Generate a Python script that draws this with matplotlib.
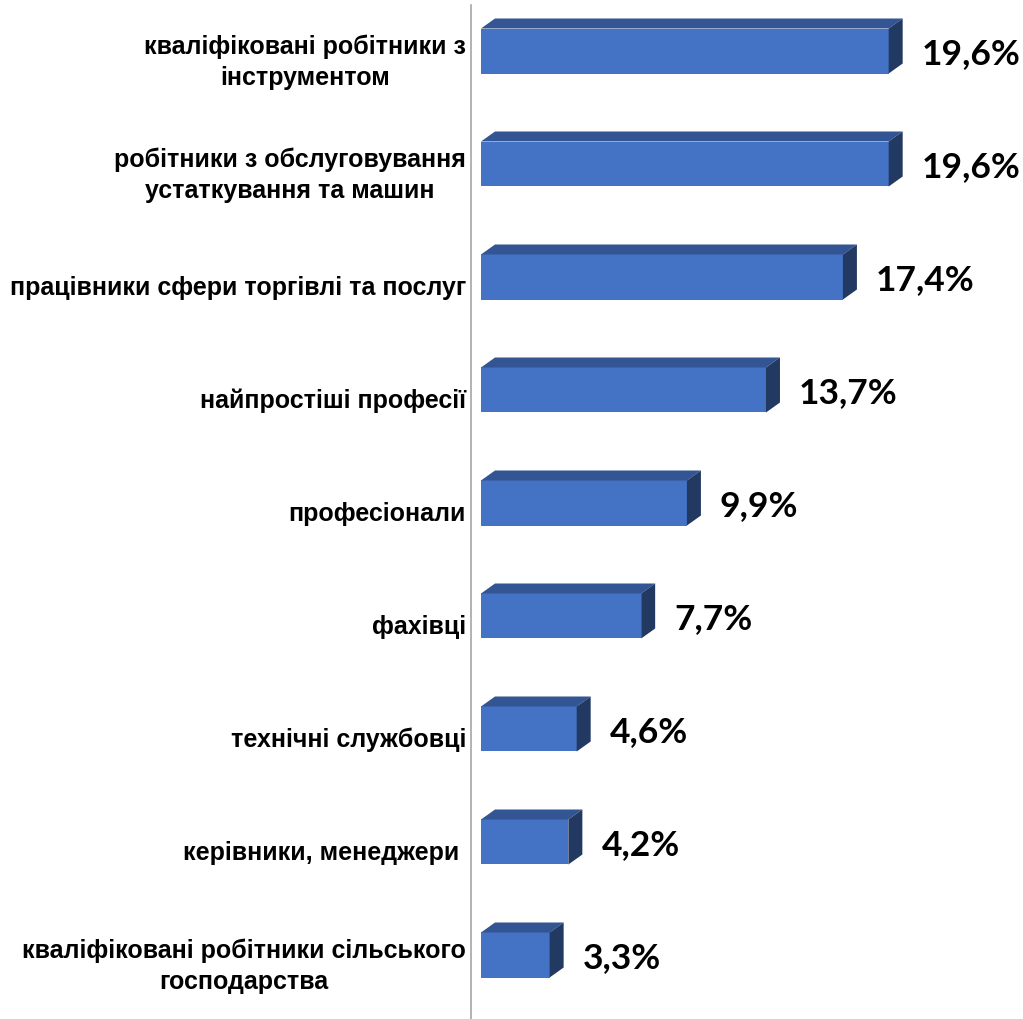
#!/usr/bin/env python3
"""
Horizontal 3D-style bar chart: occupations share
"""

import matplotlib.pyplot as plt
from matplotlib.patches import Polygon

categories = [
    'кваліфіковані робітники з\nінструментом',
    'робітники з обслуговування\nустаткування та машин',
    'працівники сфери торгівлі та послуг',
    'найпростіші професії',
    'професіонали',
    'фахівці',
    'технічні службовці',
    'керівники, менеджери ',
    'кваліфіковані робітники сільського\nгосподарства',
]
values = [19.6, 19.6, 17.4, 13.7, 9.9, 7.7, 4.6, 4.2, 3.3]
value_labels = ['19,6%', '19,6%', '17,4%', '13,7%', '9,9%', '7,7%', '4,6%', '4,2%', '3,3%']

FRONT = '#4472C4'
TOP = '#335593'
SIDE = '#223962'

W, H = 1023, 1019
px_x = 20.8      # pixels per percent
px_y = 113.0     # pixels per category
x0_px = 481      # where zero sits
ax_left_px = 471
y0_px = 51       # centre of first bar

fig = plt.figure(figsize=(W / 100, H / 100), dpi=100)
ax = fig.add_axes([ax_left_px / W, 0, 1 - ax_left_px / W, 1])

xmin = (ax_left_px - x0_px) / px_x
xmax = (W - x0_px) / px_x
ax.set_xlim(xmin, xmax)
ax.set_ylim((H - y0_px) / px_y, -y0_px / px_y)

bar_h = 45 / px_y
dx = 14 / px_x
dy = 10 / px_y

for i, v in enumerate(values):
    top = i - bar_h / 2
    bot = i + bar_h / 2
    # front face
    ax.add_patch(Polygon([(0, top), (v, top), (v, bot), (0, bot)],
                         closed=True, facecolor=FRONT, edgecolor='none'))
    # top face
    ax.add_patch(Polygon([(0, top), (dx, top - dy), (v + dx, top - dy), (v, top)],
                         closed=True, facecolor=TOP, edgecolor='none'))
    # side face
    ax.add_patch(Polygon([(v, top), (v + dx, top - dy), (v + dx, bot - dy), (v, bot)],
                         closed=True, facecolor=SIDE, edgecolor='none'))
    ax.text(v + dx + 19 / px_x, i + 3 / px_y, value_labels[i], ha='left', va='center',
            fontsize=25.5, fontweight='bold', family='Lato', color='black')
    ax.text(xmin - 5 / px_x, i + 11 / px_y, categories[i], ha='right', va='center',
            multialignment='center', fontsize=18, fontweight='bold',
            family='Liberation Sans', color='black', linespacing=1.38, clip_on=False)

for side in ['top', 'right', 'bottom']:
    ax.spines[side].set_visible(False)
ax.spines['left'].set_color('#A6A6A6')
ax.spines['left'].set_linewidth(1.2)
ax.spines['left'].set_bounds((H - y0_px) / px_y, (5 - y0_px) / px_y)
ax.set_xticks([])
ax.set_yticks([])
ax.patch.set_alpha(0)

fig.savefig('out.png', dpi=100)
